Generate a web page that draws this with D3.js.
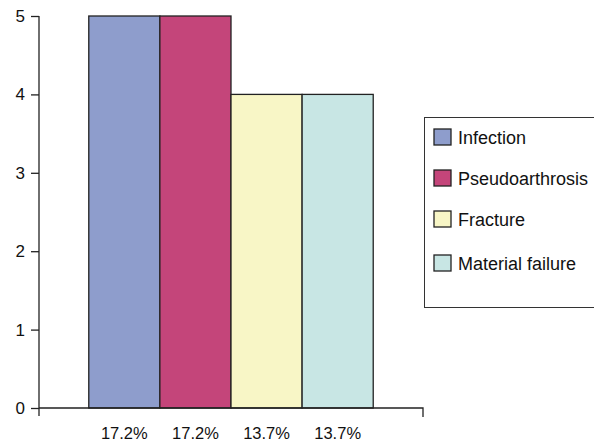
<!DOCTYPE html>
<html><head><meta charset="utf-8">
<script src="https://cdn.jsdelivr.net/npm/d3@7"></script>
<style>body{margin:0;background:#fff}svg{display:block}</style>
</head><body><div id="chart"></div>
<script>
const categories = ["Infection","Pseudoarthrosis","Fracture","Material failure"];
const values = [5,5,4,4];
const percentLabels = ["17.2%","17.2%","13.7%","13.7%"];
const colors = ["#8E9DCC","#C4457A","#F8F6C6","#C8E6E4"];
const yTicks = [0,1,2,3,4,5];

const W=594,H=441;
const FONT="Liberation Sans, Arial, sans-serif";
const svg=d3.select("#chart").append("svg").attr("width",W).attr("height",H)
  .attr("font-family",FONT).attr("font-size",17);
const x=d3.scaleBand().domain(categories).range([39,423]).paddingInner(0).paddingOuter(0.7);
const y=d3.scaleLinear().domain([0,5]).range([408,16]);

svg.selectAll("rect.bar").data(categories).enter().append("rect")
  .attr("x",d=>x(d)).attr("width",x.bandwidth())
  .attr("y",(d,i)=>y(values[i])).attr("height",(d,i)=>y(0)-y(values[i]))
  .attr("fill",(d,i)=>colors[i]).attr("stroke","#222").attr("stroke-width",1.3);

const ya=d3.axisLeft(y).tickValues(yTicks).tickSize(8).tickPadding(6).tickFormat(d3.format("d"));
const gy=svg.append("g").attr("transform","translate(39,0)").call(ya)
  .attr("font-size",17).attr("font-family",FONT);
gy.select(".domain").attr("stroke","#222").attr("stroke-width",1.3).attr("d","M0,16V416");
gy.selectAll(".tick line").attr("stroke","#222").attr("stroke-width",1.3);
gy.selectAll(".tick text").attr("fill","#111");

svg.append("path").attr("d",`M39,${y(0)}H423V417`).attr("fill","none").attr("stroke","#222").attr("stroke-width",1.3);

svg.selectAll("text.pct").data(categories).enter().append("text")
  .attr("x",d=>x(d)+x.bandwidth()/2).attr("y",438.5).attr("text-anchor","middle")
  .attr("font-size",16.5).attr("fill","#111").text((d,i)=>percentLabels[i]);

const lg=svg.append("g").attr("font-size",18);
lg.append("rect").attr("x",424.5).attr("y",117.5).attr("width",180).attr("height",190).attr("fill","#fff").attr("stroke","#333").attr("stroke-width",1);
const rowY=[137,178,219,263];
categories.forEach((c,i)=>{
  lg.append("rect").attr("x",434).attr("y",rowY[i]-8).attr("width",17).attr("height",16)
    .attr("fill",colors[i]).attr("stroke","#222").attr("stroke-width",1.3);
  lg.append("text").attr("x",458).attr("y",rowY[i]+6.5).attr("fill","#111").text(c);
});
</script></body></html>
